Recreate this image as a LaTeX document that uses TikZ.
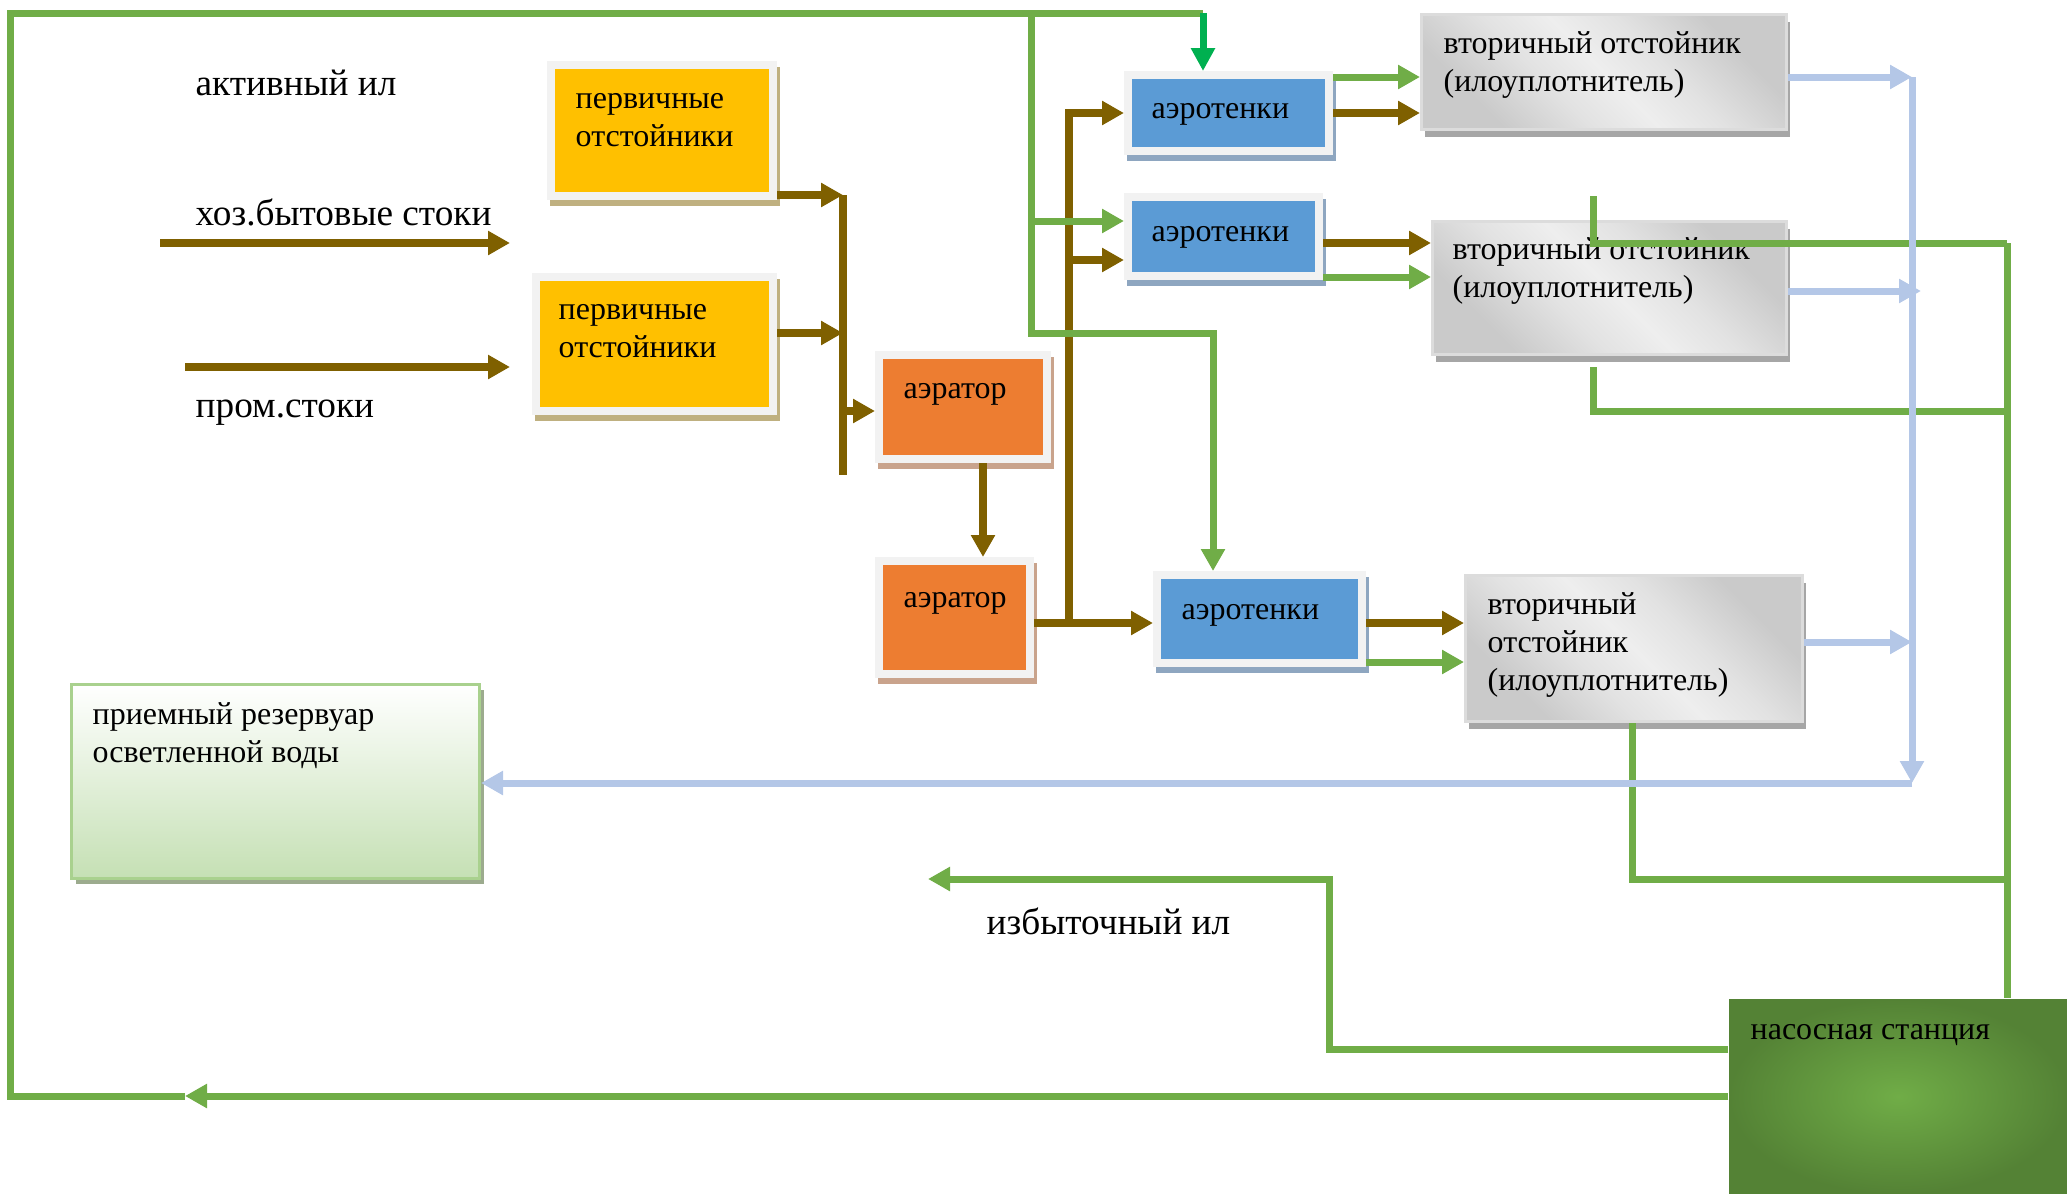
\documentclass[tikz,border=0pt]{standalone}
\usepackage{fontspec}
\setmainfont{Liberation Serif}
\usetikzlibrary{arrows.meta}

\definecolor{cGreen}{HTML}{70AD47}
\definecolor{cGreenDark}{HTML}{00B050}
\definecolor{cBrown}{HTML}{7F6000}
\definecolor{cBlue}{HTML}{B4C7E7}
\definecolor{cYellow}{HTML}{FFC000}
\definecolor{cYellowSh}{HTML}{BFB080}
\definecolor{cOrange}{HTML}{ED7D31}
\definecolor{cOrangeSh}{HTML}{C9A38C}
\definecolor{cTank}{HTML}{5B9BD5}
\definecolor{cTankSh}{HTML}{8EA6C0}
\definecolor{cFrame}{HTML}{F2F2F2}
\definecolor{cSecDark}{HTML}{CACACA}
\definecolor{cSecMid}{HTML}{E2E2E2}
\definecolor{cSecLight}{HTML}{EEEEEE}
\definecolor{cSecBorder}{HTML}{DCDCDC}
\definecolor{cSecSh}{HTML}{A6A6A6}
\definecolor{cResBot}{HTML}{C5E0B4}
\definecolor{cResBorder}{HTML}{A9D18E}
\definecolor{cResSh}{HTML}{9CAB8E}
\definecolor{cPumpDark}{HTML}{548235}
\definecolor{cPumpLight}{HTML}{70AD47}

% diagonal grey gradient of the secondary settlers
\pgfdeclarehorizontalshading{secshade}{100bp}{color(0bp)=(cSecDark); color(27bp)=(cSecDark); color(40bp)=(cSecMid); color(50bp)=(cSecLight); color(60bp)=(cSecMid); color(73bp)=(cSecDark); color(100bp)=(cSecDark)}

\tikzset{
  framed/.style 2 args={fill=#1, draw=cFrame, line width=0.8mm, inner sep=0pt,
    preaction={draw=#2, fill=#2, line width=0.8mm, transform canvas={shift={(0.3mm,-0.6mm)}}}},
  prim/.style={framed={cYellow}{cYellowSh}},
  aer/.style={framed={cOrange}{cOrangeSh}},
  tank/.style={framed={cTank}{cTankSh}},
  sec/.style={shade, shading=secshade, shading angle=45, draw=cSecBorder, line width=0.3mm, inner sep=0pt,
    preaction={fill=cSecSh, transform canvas={shift={(0.3mm,-0.7mm)}}}},
  reservoir/.style={top color=white, bottom color=cResBot, draw=cResBorder, line width=0.3mm, inner sep=0pt,
    preaction={fill=cResSh, transform canvas={shift={(0.4mm,-0.5mm)}}}},
  pumpbox/.style={inner color=cPumpLight, outer color=cPumpDark, inner sep=0pt},
  lbl/.style={font=\fontsize{10.6}{12}\selectfont, inner sep=0pt, anchor=base west, align=left},
  boxlbl/.style={font=\fontsize{9.1}{10.8}\selectfont, inner sep=0pt, anchor=base west, align=left},
  gline/.style={draw=cGreen, line width=0.7mm},
  garrow/.style={gline, -{Triangle[length=2.2mm,width=2.3mm]}},
  dgarrow/.style={draw=cGreenDark, line width=0.7mm, -{Triangle[length=2.3mm,width=2.3mm]}},
  bline/.style={draw=cBrown, line width=0.75mm},
  barrow/.style={bline, -{Triangle[length=2.2mm,width=2.3mm]}},
  blline/.style={draw=cBlue, line width=0.7mm},
  blarrow/.style={blline, -{Triangle[length=2.2mm,width=2.3mm]}},
}

\begin{document}
\begin{tikzpicture}[x=0.1mm, y=-0.1mm]
\useasboundingbox (0,0) rectangle (2067,1194);

% ---------- boxes ----------
\node[prim, minimum width=22.2mm, minimum height=13.1mm] (p1) at (662,130.5) {};
\node[prim, minimum width=23.7mm, minimum height=13.4mm] (p2) at (654.5,344) {};
\node[aer, minimum width=16.8mm, minimum height=10.4mm] (a1) at (963,407) {};
\node[aer, minimum width=15.1mm, minimum height=11.3mm] (a2) at (954.5,617.5) {};
\node[tank, minimum width=20.1mm, minimum height=7.6mm] (t1) at (1228.5,113) {};
\node[tank, minimum width=19.1mm, minimum height=7.9mm] (t2) at (1223.5,236.5) {};
\node[tank, minimum width=20.5mm, minimum height=8.8mm] (t3) at (1259.5,619) {};
\node[sec, minimum width=36.5mm, minimum height=11.5mm] (s1) at (1604,72) {};
\node[sec, minimum width=35.4mm, minimum height=13.3mm] (s2) at (1609.5,288) {};
\node[sec, minimum width=33.7mm, minimum height=14.6mm] (s3) at (1634,648.5) {};
\node[reservoir, minimum width=40.8mm, minimum height=19.4mm] (res) at (275.5,781.5) {};
\node[pumpbox, minimum width=33.8mm, minimum height=19.5mm] (pump) at (1898,1096.5) {};

% ---------- texts (multi-line ones are placed by their last baseline) ----------
\node[lbl] (tAct) at (195,96) {активный ил};
\node[lbl] (tHoz) at (195,225) {хоз.бытовые стоки};
\node[lbl] (tProm) at (195,417) {пром.стоки};
\node[lbl] (tExc) at (986,934) {избыточный ил};
\node[boxlbl] (tp1) at (575,146) {первичные\\отстойники};
\node[boxlbl] (tp2) at (558,357) {первичные\\отстойники};
\node[boxlbl] (ta1) at (903,398) {аэратор};
\node[boxlbl] (ta2) at (903,607) {аэратор};
\node[boxlbl] (tt1) at (1151,118) {аэротенки};
\node[boxlbl] (tt2) at (1151,241) {аэротенки};
\node[boxlbl] (tt3) at (1181,619) {аэротенки};
\node[boxlbl] (ts1) at (1443,91) {вторичный отстойник\\(илоуплотнитель)};
\node[boxlbl] (ts2) at (1452,297) {вторичный отстойник\\(илоуплотнитель)};
\node[boxlbl] (ts3) at (1487,690) {вторичный\\отстойник\\(илоуплотнитель)};
\node[boxlbl] (tPump) at (1750,1039) {насосная станция};
\node[boxlbl] (tRes) at (92,762) {приемный резервуар\\осветленной воды};

% ---------- junction points ----------
\coordinate (hozS) at (160,243);   \coordinate (hozE) at (510,243);
\coordinate (promS) at (185,367);  \coordinate (promE) at (510,367);
\coordinate (j1) at (843,195);     \coordinate (j2) at (843,333);
\coordinate (j3) at (843,411);     \coordinate (busEnd) at (843,475);
\coordinate (v1) at (983,0);
\coordinate (j4) at (1069,623);    \coordinate (j5) at (1069,260);
\coordinate (g0) at (185,1096);    \coordinate (cBL) at (10,1096);
\coordinate (cTL) at (10,13);      \coordinate (cTR) at (1203,13);
\coordinate (gv) at (1031,13);     \coordinate (gk) at (1213,333);
\coordinate (gm) at (1031,221);
\coordinate (rv) at (2007,243);
\coordinate (d1) at (1593,196);    \coordinate (d2) at (1593,367);
\coordinate (d3) at (1632,0);
\coordinate (e1) at (1329,879);    \coordinate (exc) at (928,879);
\coordinate (bv1) at (1912,77);    \coordinate (bv2) at (1912,783);
\coordinate (bt2) at (1921,291);

% ---------- brown: waste water ----------
\draw[barrow] (hozS) -- (hozE);
\draw[barrow] (promS) -- (promE);
\draw[barrow] (p1.east |- j1) -- (j1);
\draw[barrow] (p2.east |- j2) -- (j2);
\draw[bline] (j1) -- (busEnd);
\draw[barrow] (j3) -- (a1.west |- j3);
\draw[barrow] (a1.south -| v1) -- (a2.north -| v1);
\draw[barrow] (a2.east |- j4) -- (t3.west |- j4);
\draw[barrow] (j4) |- (t1.west);
\draw[barrow] (j5) -- (t2.west |- j5);
\draw[barrow] (t1.east) -- (s1.west |- t1.east);
\draw[barrow] (t2.east |- 0,243) -- (s2.west |- 0,243);
\draw[barrow] (t3.east |- j4) -- (s3.west |- j4);

% ---------- green: activated sludge ----------
\draw[garrow] (pump.west |- g0) -- (g0);
\draw[gline] (g0) -- (cBL) -- (cTL) -- (cTR);
\draw[dgarrow] (cTR) -- (cTR |- t1.north);
\draw[garrow] (gv) |- (gk) -- (gk |- t3.north);
\draw[garrow] (gm) -- (t2.west |- gm);
\draw[garrow] (t1.east |- 0,77) -- (s1.west |- 0,77);
\draw[garrow] (t2.east |- 0,277) -- (s2.west |- 0,277);
\draw[garrow] (t3.east |- 0,662) -- (s3.west |- 0,662);
\draw[gline] (d1) |- (rv);
\draw[gline] (d2) |- (rv |- 0,411);
\draw[gline] (s3.south -| d3) |- (rv |- e1);
\draw[gline] (rv) -- (rv |- pump.north);
\draw[garrow] (pump.west |- 0,1049) -| (e1) -- (exc);

% ---------- light blue: clarified water ----------
\draw[blarrow] (s1.east |- bv1) -- (bv1);
\draw[blarrow] (bv1) -- (bv2);
\draw[blarrow] (bv2) -- (res.east |- bv2);
\draw[blarrow] (s2.east |- bt2) -- (bt2);
\draw[blarrow] (s3.east |- 0,642) -- (bv1 |- 0,642);
\end{tikzpicture}
\end{document}
